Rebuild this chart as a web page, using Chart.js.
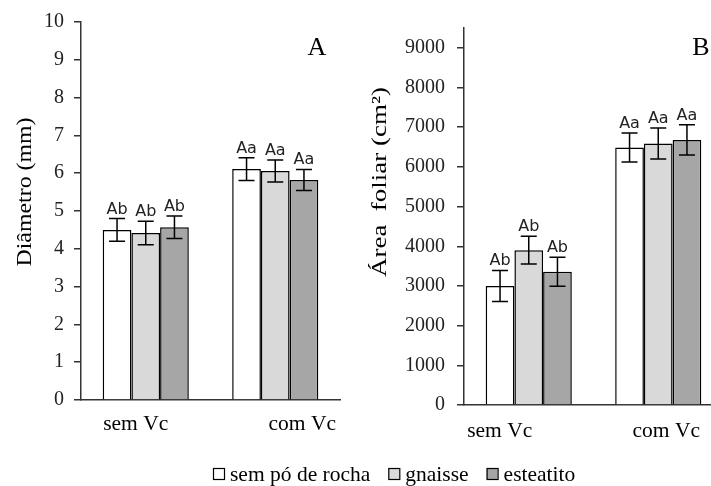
<!DOCTYPE html>
<html>
<head>
<meta charset="utf-8">
<script src="https://cdn.jsdelivr.net/npm/chart.js@4.4.1/dist/chart.umd.min.js"></script>
<style>
  html, body { margin: 0; padding: 0; background: #fff; width: 711px; height: 486px; overflow: hidden; }
  #chartA { position: absolute; left: 0; top: 0; }
  #chartB { position: absolute; left: 355px; top: 0; }
  #legend { position: absolute; left: 0; top: 440px; }
</style>
</head>
<body>
<canvas id="chartA" width="355" height="440"></canvas>
<canvas id="chartB" width="380" height="440"></canvas>
<canvas id="legend" width="711" height="46"></canvas>

<script>
// categories and series
const categories = ['sem Vc', 'com Vc'];
const seriesNames = ['sem pó de rocha', 'gnaisse', 'esteatito'];
const seriesColors = ['#ffffff', '#d9d9d9', '#a6a6a6'];

// A - Diâmetro (mm)
const diamTicks = [0, 1, 2, 3, 4, 5, 6, 7, 8, 9, 10];
const diamSemPo = [4.50, 6.11];
const diamGnaisse = [4.42, 6.06];
const diamEsteatito = [4.57, 5.82];
const diamErrSemPo = [0.30, 0.30];
const diamErrGnaisse = [0.31, 0.29];
const diamErrEsteatito = [0.30, 0.28];
const diamLetters = ['Ab', 'Aa'];

// B - Área foliar (cm²)
const areaTicks = [0, 1000, 2000, 3000, 4000, 5000, 6000, 7000, 8000, 9000];
const areaSemPo = [3000, 6490];
const areaGnaisse = [3900, 6590];
const areaEsteatito = [3360, 6680];
const areaErrSemPo = [390, 365];
const areaErrGnaisse = [350, 390];
const areaErrEsteatito = [365, 380];
const areaLetters = ['Ab', 'Aa'];

const serif = '"Liberation Serif", "Times New Roman", serif';
Chart.defaults.font.family = serif;
Chart.defaults.color = '#000';

// error bars + letters above them
const errorBars = {
  id: 'errorBars',
  afterDatasetsDraw(chart) {
    const ctx = chart.ctx;
    const y = chart.scales.y;
    ctx.save();
    ctx.strokeStyle = '#000';
    ctx.lineWidth = 1.5;
    ctx.fillStyle = '#222';
    ctx.font = '16px "DejaVu Sans", sans-serif';
    ctx.textAlign = 'center';
    ctx.textBaseline = 'alphabetic';
    chart.data.datasets.forEach((ds, i) => {
      chart.getDatasetMeta(i).data.forEach((bar, j) => {
        const v = ds.data[j], e = ds.errors[j];
        const top = y.getPixelForValue(v + e);
        const bot = y.getPixelForValue(v - e);
        ctx.beginPath();
        ctx.moveTo(bar.x, top); ctx.lineTo(bar.x, bot);
        ctx.moveTo(bar.x - 8, top); ctx.lineTo(bar.x + 8, top);
        ctx.moveTo(bar.x - 8, bot); ctx.lineTo(bar.x + 8, bot);
        ctx.stroke();
        ctx.fillText(ds.letters[j], bar.x, top - 5);
      });
    });
    ctx.restore();
  }
};

// category labels, y title and panel letter
const decorations = {
  id: 'decorations',
  afterDraw(chart, args, o) {
    const ctx = chart.ctx;
    const x = chart.scales.x;
    ctx.save();
    ctx.fillStyle = '#000';
    ctx.textAlign = 'center';
    ctx.textBaseline = 'alphabetic';
    ctx.font = '21.5px ' + serif;
    categories.forEach((c, i) => {
      ctx.fillText(c, x.getPixelForValue(i) + o.catShift[i], o.catY);
    });
    ctx.font = '26px ' + serif;
    ctx.fillText(o.panel, o.panelX, o.panelY);
    // rotated axis title, stretched along its length like the original
    ctx.translate(o.titleX, o.titleY);
    ctx.rotate(-Math.PI / 2);
    ctx.font = '21px ' + serif;
    const w = ctx.measureText(o.title).width;
    ctx.scale(o.titleLen / w, 1);
    ctx.textBaseline = 'middle';
    ctx.fillText(o.title, 0, 0);
    ctx.restore();
  }
};

function makeDatasets(values, errors, letters) {
  return seriesNames.map((name, i) => ({
    label: name,
    data: values[i],
    errors: errors[i],
    letters: letters,
    backgroundColor: seriesColors[i],
    borderColor: '#000',
    borderWidth: 1.5,
    categoryPercentage: 0.665,
    barPercentage: 1
  }));
}

function makeChart(id, datasets, yMax, yTicks, yTop, yScaleWidth, tickPad, xHeight, right, deco) {
  return new Chart(document.getElementById(id), {
    type: 'bar',
    data: { labels: categories, datasets: datasets },
    plugins: [errorBars, decorations],
    options: {
      responsive: false,
      animation: false,
      layout: { padding: { left: 0, top: yTop, right: right, bottom: 0 } },
      plugins: { legend: { display: false }, tooltip: { enabled: false }, decorations: deco },
      scales: {
        x: {
          ticks: { display: false },
          grid: { display: false },
          border: { display: true, color: '#333', width: 1.5 },
          afterFit: s => { s.height = xHeight; }
        },
        y: {
          min: 0, max: yMax,
          ticks: { padding: tickPad, font: { size: 20 }, color: '#222', autoSkip: false,
                   callback: v => String(v) },
          afterBuildTicks: s => { s.ticks = yTicks.map(v => ({ value: v })); },
          grid: { drawOnChartArea: false, drawTicks: true, tickLength: 7, color: '#333', lineWidth: 1.5 },
          border: { display: true, color: '#333', width: 1.5 },
          afterFit: s => { s.width = yScaleWidth; }
        }
      }
    }
  });
}

makeChart('chartA',
  makeDatasets([diamSemPo, diamGnaisse, diamEsteatito], [diamErrSemPo, diamErrGnaisse, diamErrEsteatito], diamLetters),
  10, diamTicks, 22, 81, 10, 40, 15,
  { catShift: [-10, 27], catY: 430, panel: 'A', panelX: 317, panelY: 55,
    title: 'Diâmetro (mm)', titleX: 25, titleY: 192, titleLen: 149 });

makeChart('chartB',
  makeDatasets([areaSemPo, areaGnaisse, areaEsteatito], [areaErrSemPo, areaErrGnaisse, areaErrEsteatito], areaLetters),
  9500, areaTicks, 28, 109, 12, 35, 12,
  { catShift: [-29, 8], catY: 437, panel: 'B', panelX: 346, panelY: 55,
    title: 'Área  foliar (cm²)', titleX: 25, titleY: 182, titleLen: 190 });

// shared legend under both panels
const lg = document.getElementById('legend').getContext('2d');
lg.font = '21.5px ' + serif;
lg.textBaseline = 'alphabetic';
lg.lineWidth = 1.2;
let lx = 213;
seriesNames.forEach((name, i) => {
  lg.fillStyle = seriesColors[i];
  lg.fillRect(lx, 28, 11, 11);
  lg.strokeStyle = '#000';
  lg.strokeRect(lx + 0.5, 28.5, 11, 11);
  lg.fillStyle = '#000';
  lg.fillText(name, lx + 17, 41);
  lx += 17 + lg.measureText(name).width + 18;
});
</script>
</body>
</html>
